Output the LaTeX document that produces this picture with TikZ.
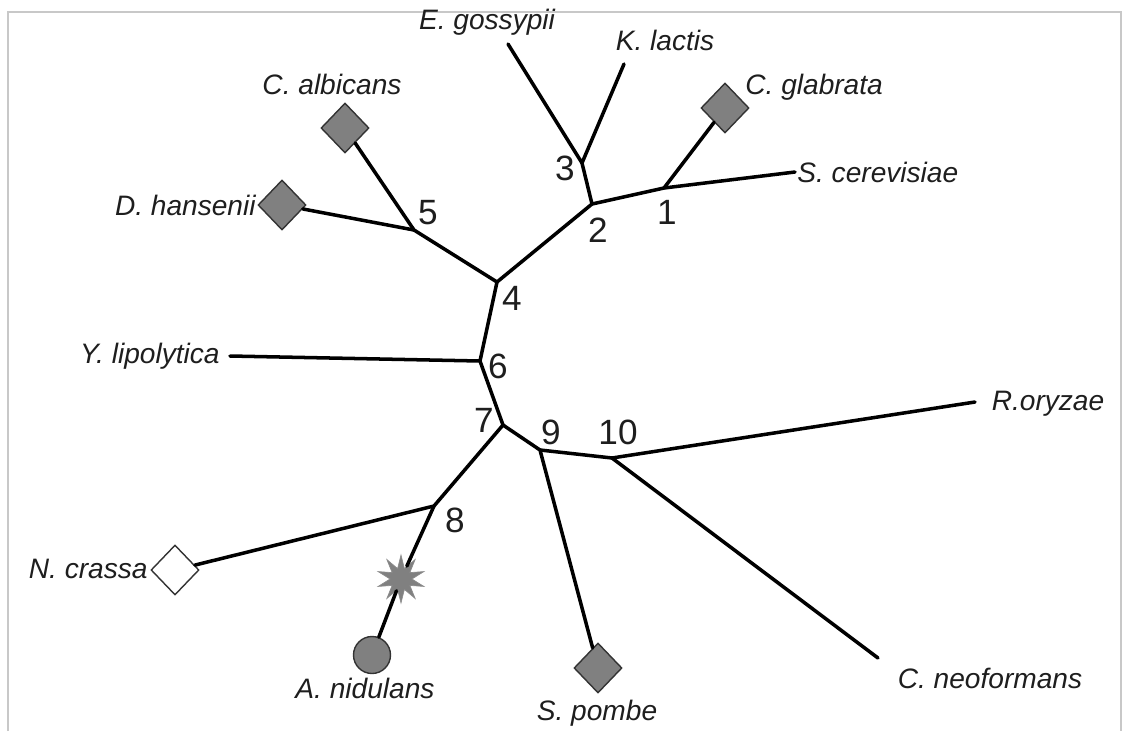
\documentclass[tikz,border=0pt]{standalone}
\usepackage{fontspec}
\setmainfont{Liberation Sans}
\usetikzlibrary{shapes.geometric}

\definecolor{leafgrey}{RGB}{128,128,128}
\definecolor{framegrey}{RGB}{200,200,200}
\definecolor{textgrey}{RGB}{30,30,30}

\tikzset{
	branch/.style={line width=2pt, line cap=round, line join=round},
	leafbox/.style={diamond, draw=black!80, line width=0.8pt, fill=leafgrey,
		minimum width=0.96cm, minimum height=1cm, inner sep=0pt},
	openbox/.style={leafbox, fill=white},
	taxon/.style={font=\fontsize{16}{18}\selectfont\itshape, text=textgrey, inner sep=0pt},
	nodenum/.style={font=\fontsize{20}{22}\selectfont, text=textgrey, inner sep=0pt},
}

\begin{document}
\begin{tikzpicture}[x=0.02cm, y=-0.02cm]
		\useasboundingbox (0,0) rectangle (1126,731);
		\draw [framegrey, line width=0.8pt] (8,731) -- (8,12) -- (1121,12) -- (1121,731);
		% internal nodes of the tree
		\coordinate (n1) at (664,188);
		\coordinate (n2) at (592,204);
		\coordinate (n3) at (582,163);
		\coordinate (n4) at (497,282);
		\coordinate (n5) at (414,230);
		\coordinate (n6) at (480,361);
		\coordinate (n7) at (503,425);
		\coordinate (n8) at (434,506);
		\coordinate (n9) at (540,450);
		\coordinate (n10) at (612,458);
		% free branch ends
		\coordinate (egos) at (508,44);
		\coordinate (klac) at (624,64);
		\coordinate (scer) at (795,172);
		\coordinate (ylip) at (230,356);
		\coordinate (rory) at (975,402);
		\coordinate (cneo) at (878,658);
		% marked leaves
		\node [leafbox] (cgla) at (725,108) {};
		\node [leafbox] (calb) at (345,128) {};
		\node [leafbox] (dhan) at (282,205) {};
		\node [openbox] (ncra) at (175,570) {};
		\node [leafbox] (spom) at (598,668) {};
		\node [circle, draw=black!80, line width=0.8pt, fill=leafgrey, minimum size=0.74cm, inner sep=0pt] (anid) at (372,655) {};
		\node [star, star points=10, star point ratio=2.2, fill=leafgrey, draw=black!45, line width=0.4pt, minimum size=0.96cm, inner sep=0pt] (burst) at (401,579) {};
		% branches
		\draw [branch] (egos) -- (n3) -- (klac);
		\draw [branch] (n3) -- (n2) -- (n1) -- (scer);
		\draw [branch] (n1) -- (cgla);
		\draw [branch] (n2) -- (n4) -- (n5) -- (calb);
		\draw [branch] (n5) -- (dhan);
		\draw [branch] (n4) -- (n6) -- (ylip);
		\draw [branch] (n6) -- (n7) -- (n8) -- (ncra);
		\draw [branch] (n8) -- (burst);
		\draw [branch] (burst) -- (anid);
		\draw [branch] (n7) -- (n9) -- (spom);
		\draw [branch] (n9) -- (n10) -- (rory);
		\draw [branch] (n10) -- (cneo);
		% node numbers
		\node [nodenum] at (667,212) {1};
		\node [nodenum] at (598,230) {2};
		\node [nodenum] at (565,168) {3};
		\node [nodenum] at (512,298) {4};
		\node [nodenum] at (428,213) {5};
		\node [nodenum] at (498,366) {6};
		\node [nodenum] at (484,420) {7};
		\node [nodenum] at (455,520) {8};
		\node [nodenum] at (551,432) {9};
		\node [nodenum] at (618,432) {10};
		% species names
		\node [taxon] (tegos) at (487,22) {E. gossypii};
		\node [taxon] (tklac) at (665,40) {K. lactis};
		\node [taxon, anchor=west] (tcgla) at (745,87) {C. glabrata};
		\node [taxon, anchor=west] (tscer) at (797,172) {S. cerevisiae};
		\node [taxon] (tcalb) at (332,84) {C. albicans};
		\node [taxon, anchor=east] (tdhan) at (256,205) {D. hansenii};
		\node [taxon, anchor=east] (tylip) at (220,356) {Y. lipolytica};
		\node [taxon, anchor=east] (tncra) at (148,569) {N. crassa};
		\node [taxon] (tanid) at (365,688) {A. nidulans};
		\node [taxon] (tspom) at (597,713) {S. pombe};
		\node [taxon] (tcneo) at (990,678) {C. neoformans};
		\node [taxon] (trory) at (1048,404) {R.oryzae};
\end{tikzpicture}
\end{document}
